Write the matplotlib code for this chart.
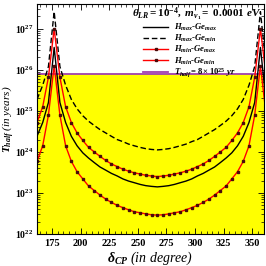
import numpy as np
import matplotlib
matplotlib.use("Agg")
import matplotlib.pyplot as plt
from matplotlib.lines import Line2D
from matplotlib.ticker import MultipleLocator, LogLocator, LogFormatterMathtext

plt.rcParams["font.family"] = "Liberation Serif"
plt.rcParams["font.weight"] = "bold"
plt.rcParams["mathtext.fontset"] = "custom"
plt.rcParams["mathtext.rm"] = "Liberation Serif:bold"
plt.rcParams["mathtext.it"] = "Liberation Serif:italic:bold"
plt.rcParams["mathtext.bf"] = "Liberation Serif:bold"

# delta_CP in degree
delta_cp = [162, 167, 172, 177, 182, 187, 192, 197, 202, 207, 212, 217, 222, 227,
            232, 237, 242, 247, 252, 257, 262, 267, 272, 277, 282, 287, 292, 297,
            302, 307, 312, 317, 322, 327, 332, 337, 342, 347, 352, 357, 362]

# T_half in years
hmax_gemax = [2.4e24, 5.2e24, 1.6e25, 3.5e26, 1.6e25, 5.2e24, 2.4e24, 1.41e24, 9.5e23,
              7.1e23, 5.5e23, 4.3e23, 3.6e23, 3.0e23, 2.6e23, 2.2e23, 1.95e23, 1.78e23,
              1.62e23, 1.51e23, 1.45e23, 1.41e23, 1.45e23, 1.51e23, 1.62e23, 1.78e23,
              1.95e23, 2.2e23, 2.6e23, 3.0e23, 3.6e23, 4.3e23, 5.5e23, 7.1e23, 9.5e23,
              1.41e24, 2.4e24, 5.2e24, 1.6e25, 3.5e26, 1.6e25]
hmax_gemin = [1.9e25, 4.2e25, 1.2e26, 2.6e27, 1.2e26, 4.2e25, 1.9e25, 1.12e25, 7.6e24,
              5.6e24, 4.4e24, 3.5e24, 2.9e24, 2.4e24, 2.0e24, 1.78e24, 1.55e24, 1.41e24,
              1.29e24, 1.20e24, 1.15e24, 1.12e24, 1.15e24, 1.20e24, 1.29e24, 1.41e24,
              1.55e24, 1.78e24, 2.0e24, 2.4e24, 2.9e24, 3.5e24, 4.4e24, 5.6e24, 7.6e24,
              1.12e25, 1.9e25, 4.2e25, 1.2e26, 2.6e27, 1.2e26]
hmin_gemax = [5.9e23, 1.41e24, 7.9e24, 1.26e26, 7.9e24, 1.41e24, 5.9e23, 3.3e23, 2.2e23,
              1.48e23, 1.15e23, 8.9e22, 7.1e22, 5.9e22, 5.0e22, 4.4e22, 3.9e22, 3.5e22,
              3.3e22, 3.1e22, 2.95e22, 2.9e22, 2.95e22, 3.1e22, 3.3e22, 3.5e22, 3.9e22,
              4.4e22, 5.0e22, 5.9e22, 7.1e22, 8.9e22, 1.15e23, 1.48e23, 2.2e23, 3.3e23,
              5.9e23, 1.41e24, 7.9e24, 1.26e26, 7.9e24]
hmin_gemin = [5.2e24, 1.26e25, 6.6e25, 1.0e27, 6.6e25, 1.26e25, 5.2e24, 2.9e24, 1.9e24,
              1.29e24, 1.0e24, 7.8e23, 6.2e23, 5.1e23, 4.4e23, 3.8e23, 3.4e23, 3.1e23,
              2.9e23, 2.7e23, 2.6e23, 2.5e23, 2.6e23, 2.7e23, 2.9e23, 3.1e23, 3.4e23,
              3.8e23, 4.4e23, 5.1e23, 6.2e23, 7.8e23, 1.0e24, 1.29e24, 1.9e24, 2.9e24,
              5.2e24, 1.26e25, 6.6e25, 1.0e27, 6.6e25]
t_limit = 8e25

fig = plt.figure(figsize=(2.66, 2.66), dpi=100)
ax = fig.add_axes([0.139, 0.12, 0.853, 0.865])

ax.axhspan(1e22, t_limit, color="#ffff00", zorder=0)
ax.axhline(t_limit, color="#a040b0", lw=1.3, zorder=1)

mk = dict(marker="s", ms=1.6, mfc="#4a0a0a", mec="#4a0a0a")
ax.plot(delta_cp, hmax_gemax, color="black", lw=1.0)
ax.plot(delta_cp, hmax_gemin, color="black", lw=1.0, ls=(0, (4, 2)))
ax.plot(delta_cp, hmin_gemax, color="red", lw=1.0, **mk)
ax.plot(delta_cp, hmin_gemin, color="red", lw=1.0, **mk)

ax.set_yscale("log")
ax.set_xlim(162, 360)
ax.set_ylim(1e22, 4e27)
ax.xaxis.set_major_locator(MultipleLocator(25))
ax.xaxis.set_minor_locator(MultipleLocator(5))
ax.yaxis.set_major_locator(LogLocator(base=10, numticks=10))
ax.yaxis.set_minor_locator(LogLocator(base=10, subs=np.arange(2, 10), numticks=20))
ax.yaxis.set_major_formatter(LogFormatterMathtext())
ax.tick_params(which="both", direction="in", top=True, right=True, labelsize=7.5)
ax.tick_params(axis="y", labelsize=7, pad=2.5)
ax.tick_params(which="major", length=4, width=0.6)
ax.tick_params(which="minor", length=2, width=0.5)
for s in ax.spines.values():
    s.set_linewidth(0.8)

ax.set_xlabel(r"$\delta_{CP}$ (in degree)", fontsize=10, style="italic", labelpad=1)
ax.set_ylabel(r"$T_{half}$ (in years)", fontsize=8, style="italic")
ax.yaxis.set_label_coords(-0.093, 0.5)

ax.text(0.99, 0.993, r"$\theta_{LR}=10^{-4},\ m_{\nu_1}=\ 0.0001\ eV$",
        transform=ax.transAxes, ha="right", va="top", fontsize=8)

handles = [
    Line2D([], [], color="black", lw=1.0),
    Line2D([], [], color="black", lw=1.0, ls=(0, (4, 2))),
    Line2D([], [], color="red", lw=1.0, **mk),
    Line2D([], [], color="red", lw=1.0, **mk),
    Line2D([], [], color="#a040b0", lw=1.3),
]
labels = [r"$H_{max}$-$Ge_{max}$", r"$H_{max}$-$Ge_{min}$", r"$H_{min}$-$Ge_{max}$",
          r"$H_{min}$-$Ge_{min}$", r"$T_{half}=8\times10^{25}\ yr$"]
ax.legend(handles, labels, loc="upper left", bbox_to_anchor=(0.445, 0.945),
          frameon=False, fontsize=6.2, handlelength=2.9, handletextpad=0.7,
          labelspacing=0.0, borderpad=0.1)

fig.savefig("out.png", dpi=100)
